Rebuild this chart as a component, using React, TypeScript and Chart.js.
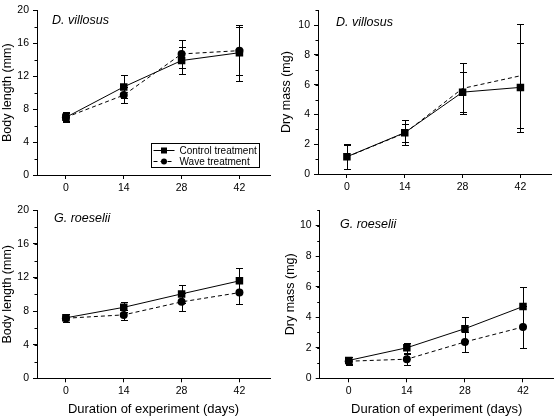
import React, { useEffect, useRef } from 'react';
import { Chart, registerables } from 'chart.js';

Chart.register(...registerables);

// ---------- data ----------
const days = [0, 14, 28, 42];
const lengthTicks = [0, 4, 8, 12, 16, 20];
const massTicks = [0, 2, 4, 6, 8, 10];

const dvLenControl = [7.0, 10.7, 13.9, 14.85];
const dvLenControlErr = [0.5, 1.4, 1.6, 3.4];
const dvLenWave = [7.0, 9.7, 14.7, 15.1];
const dvLenWaveErr = [0.6, 1.0, 1.65, 2.9];

const dvMassControl = [1.16, 2.78, 5.5, 5.82];
const dvMassControlErr = [0.85, 0.85, 1.35, 3.0];
const dvMassWave = [1.15, 2.75, 5.75, 6.6];
const dvMassWaveErr = [0.8, 0.6, 1.72, 3.5];

const grLenControl = [7.2, 8.45, 10.05, 11.6];
const grLenControlErr = [0.45, 0.6, 1.05, 1.5];
const grLenWave = [7.15, 7.55, 9.1, 10.2];
const grLenWaveErr = [0.45, 0.6, 1.05, 1.4];

const grMassControl = [1.17, 2.0, 3.25, 4.7];
const grMassControlErr = [0.25, 0.33, 0.78, 1.25];
const grMassWave = [1.12, 1.25, 2.38, 3.36];
const grMassWaveErr = [0.25, 0.35, 0.68, 1.35];

const FONT = "'Liberation Sans', Arial, Helvetica, sans-serif";

// ---------- plugins ----------
const errorBarPlugin = {
  id: 'errorBars',
  beforeDatasetsDraw(chart: any) {
    const ctx = chart.ctx;
    const ys = chart.scales.y;
    chart.data.datasets.forEach((ds: any, di: number) => {
      const errs = ds.errors;
      if (!errs) return;
      const meta = chart.getDatasetMeta(di);
      ctx.save();
      ctx.strokeStyle = '#000';
      ctx.lineWidth = 1;
      meta.data.forEach((pt: any, i: number) => {
        const v = ds.data[i].y;
        const e = errs[i];
        const x = Math.round(pt.x) + 0.5;
        const yTop = Math.round(ys.getPixelForValue(v + e)) + 0.5;
        const yBot = Math.round(ys.getPixelForValue(v - e)) + 0.5;
        ctx.beginPath();
        ctx.moveTo(x, yTop);
        ctx.lineTo(x, yBot);
        ctx.moveTo(x - 3.5, yTop);
        ctx.lineTo(x + 3.5, yTop);
        ctx.moveTo(x - 3.5, yBot);
        ctx.lineTo(x + 3.5, yBot);
        ctx.stroke();
      });
      ctx.restore();
    });
  },
};

const minorTickPlugin = {
  id: 'minorTicks',
  afterDraw(chart: any, _args: any, opts: any) {
    const s = chart.scales.y;
    const ctx = chart.ctx;
    ctx.save();
    ctx.strokeStyle = '#000';
    ctx.lineWidth = 1;
    ctx.beginPath();
    for (let v = s.min; v <= s.max + 1e-9; v += opts.step) {
      const py = Math.round(s.getPixelForValue(v)) + 0.5;
      ctx.moveTo(s.right - 2.5, py);
      ctx.lineTo(s.right, py);
    }
    ctx.stroke();
    ctx.restore();
  },
};

const panelLabelPlugin = {
  id: 'panelLabel',
  afterDraw(chart: any, _args: any, opts: any) {
    const ctx = chart.ctx;
    const a = chart.chartArea;
    ctx.save();
    ctx.fillStyle = '#000';
    ctx.font = `italic 12.5px ${FONT}`;
    ctx.textAlign = 'left';
    ctx.textBaseline = 'middle';
    ctx.fillText(opts.text, a.left + opts.dx, a.top + opts.dy);
    ctx.restore();
  },
};

const boxLegendPlugin = {
  id: 'boxLegend',
  afterDraw(chart: any, _args: any, opts: any) {
    if (!opts.show) return;
    const ctx = chart.ctx;
    const a = chart.chartArea;
    const w = 108;
    const h = 24;
    const right = Math.round(a.right - 11) + 0.5;
    const bottom = Math.round(a.bottom - 8) + 0.5;
    const left = right - w;
    const top = bottom - h;
    ctx.save();
    ctx.strokeStyle = '#000';
    ctx.lineWidth = 1;
    ctx.fillStyle = '#fff';
    ctx.fillRect(left, top, w, h);
    ctx.strokeRect(left, top, w, h);
    const dsets = chart.data.datasets;
    const order = [1, 0];
    order.forEach((di, row) => {
      const ds = dsets[di];
      const y = Math.round(top + 6.5 + row * 11) + 0.5;
      ctx.beginPath();
      ctx.setLineDash(ds.borderDash || []);
      ctx.moveTo(left + 2, y);
      ctx.lineTo(left + 23, y);
      ctx.stroke();
      ctx.setLineDash([]);
      ctx.fillStyle = '#000';
      const cx = left + 12.5;
      if (ds.pointStyle === 'rect') {
        ctx.fillRect(cx - 3, y - 3, 6, 6);
      } else {
        ctx.beginPath();
        ctx.arc(cx, y, 3, 0, Math.PI * 2);
        ctx.fill();
      }
      ctx.font = `10px ${FONT}`;
      ctx.textAlign = 'left';
      ctx.textBaseline = 'middle';
      ctx.fillText(ds.label, left + 28, y + 0.5);
    });
    ctx.restore();
  },
};

// ---------- panel ----------
type PanelProps = {
  left: number;
  top: number;
  width: number;
  height: number;
  area: { left: number; right: number; top: number; bottom: number };
  yMax: number;
  yTicks: number[];
  minorStep: number;
  yTitle: string;
  yTitlePad: number;
  xTitle: boolean;
  label: string;
  labelDx: number;
  labelDy: number;
  legend: boolean;
  control: number[];
  controlErr: number[];
  wave: number[];
  waveErr: number[];
  waveMarkers: boolean;
};

function Panel(p: PanelProps) {
  const ref = useRef<HTMLCanvasElement>(null);
  useEffect(() => {
    if (!ref.current) return;
    const tickFont = { family: FONT, size: 10.5 };
    const chart = new Chart(ref.current, {
      type: 'line',
      data: {
        datasets: [
          {
            label: 'Wave treatment',
            data: days.map((d, i) => ({ x: d, y: p.wave[i] })),
            errors: p.waveErr,
            borderColor: '#000',
            backgroundColor: '#000',
            borderWidth: 1,
            borderDash: [4, 3],
            pointStyle: 'circle',
            pointRadius: p.waveMarkers ? 4 : 0,
            pointBorderWidth: 0,
            pointBackgroundColor: '#000',
            tension: 0,
          } as any,
          {
            label: 'Control treatment',
            data: days.map((d, i) => ({ x: d, y: p.control[i] })),
            errors: p.controlErr,
            borderColor: '#000',
            backgroundColor: '#000',
            borderWidth: 1,
            pointStyle: 'rect',
            pointRadius: 5.3,
            pointBorderWidth: 0,
            pointBackgroundColor: '#000',
            tension: 0,
          } as any,
        ],
      },
      options: {
        animation: false,
        responsive: false,
        events: [],
        layout: {
          autoPadding: false,
          padding: {
            left: 0,
            top: p.area.top,
            right: p.width - p.area.right,
            bottom: 0,
          },
        },
        plugins: {
          legend: { display: false },
          tooltip: { enabled: false },
          panelLabel: { text: p.label, dx: p.labelDx, dy: p.labelDy },
          minorTicks: { step: p.minorStep },
          boxLegend: { show: p.legend },
        } as any,
        scales: {
          x: {
            type: 'linear',
            min: -7,
            max: 49.4,
            afterBuildTicks: (s: any) => {
              s.ticks = days.map((v) => ({ value: v }));
            },
            afterFit: (s: any) => {
              s.height = p.height - p.area.bottom;
            },
            grid: {
              display: true,
              drawOnChartArea: false,
              drawTicks: true,
              tickLength: 4,
              color: '#000',
              tickColor: '#000',
            },
            border: { display: true, color: '#000', width: 1 },
            ticks: {
              font: tickFont,
              color: '#000',
              padding: 3,
              maxRotation: 0,
              autoSkip: false,
              callback: (v: any) => String(v),
            },
            title: {
              display: p.xTitle,
              text: 'Duration of experiment (days)',
              font: { family: FONT, size: 13 },
              color: '#000',
              padding: { top: 0, bottom: 0 },
            },
          },
          y: {
            type: 'linear',
            min: 0,
            max: p.yMax,
            afterBuildTicks: (s: any) => {
              s.ticks = p.yTicks.map((v) => ({ value: v }));
            },
            afterFit: (s: any) => {
              s.width = p.area.left;
            },
            grid: {
              display: true,
              drawOnChartArea: false,
              drawTicks: true,
              tickLength: 4,
              color: '#000',
              tickColor: '#000',
            },
            border: { display: true, color: '#000', width: 1 },
            ticks: {
              font: tickFont,
              color: '#000',
              padding: 4,
              autoSkip: false,
              callback: (v: any) => String(v),
            },
            title: {
              display: true,
              text: p.yTitle,
              font: { family: FONT, size: 12.5 },
              color: '#000',
              padding: { top: p.yTitlePad, bottom: 0 },
            },
          },
        },
      } as any,
      plugins: [errorBarPlugin, minorTickPlugin, panelLabelPlugin, boxLegendPlugin],
    });
    return () => chart.destroy();
  }, []);
  return (
    <canvas
      ref={ref}
      width={p.width}
      height={p.height}
      style={{
        position: 'absolute',
        left: p.left,
        top: p.top,
        width: p.width,
        height: p.height,
      }}
    />
  );
}

export default function App() {
  return (
    <div
      style={{
        position: 'absolute',
        left: 0,
        top: 0,
        width: 557,
        height: 417,
        background: '#fff',
        overflow: 'hidden',
      }}
    >
      <Panel
        left={0}
        top={0}
        width={278}
        height={200}
        area={{ left: 37, right: 270, top: 4.6, bottom: 175 }}
        yMax={20}
        yTicks={lengthTicks}
        minorStep={2}
        yTitle="Body length (mm)"
        yTitlePad={0}
        xTitle={false}
        label="D. villosus"
        labelDx={15}
        labelDy={10.5}
        legend={true}
        control={dvLenControl}
        controlErr={dvLenControlErr}
        wave={dvLenWave}
        waveErr={dvLenWaveErr}
        waveMarkers={true}
      />
      <Panel
        left={278}
        top={0}
        width={279}
        height={200}
        area={{ left: 40, right: 273, top: 2.7, bottom: 174 }}
        yMax={11}
        yTicks={massTicks}
        minorStep={1}
        yTitle="Dry mass (mg)"
        yTitlePad={1.5}
        xTitle={false}
        label="D. villosus"
        labelDx={18}
        labelDy={12}
        legend={false}
        control={dvMassControl}
        controlErr={dvMassControlErr}
        wave={dvMassWave}
        waveErr={dvMassWaveErr}
        waveMarkers={false}
      />
      <Panel
        left={0}
        top={200}
        width={278}
        height={217}
        area={{ left: 37, right: 270, top: 7.3, bottom: 178.3 }}
        yMax={20}
        yTicks={lengthTicks}
        minorStep={2}
        yTitle="Body length (mm)"
        yTitlePad={0}
        xTitle={true}
        label="G. roeselii"
        labelDx={17}
        labelDy={8.7}
        legend={false}
        control={grLenControl}
        controlErr={grLenControlErr}
        wave={grLenWave}
        waveErr={grLenWaveErr}
        waveMarkers={true}
      />
      <Panel
        left={278}
        top={200}
        width={279}
        height={217}
        area={{ left: 41.7, right: 275.7, top: 6.7, bottom: 178.3 }}
        yMax={11}
        yTicks={massTicks}
        minorStep={1}
        yTitle="Dry mass (mg)"
        yTitlePad={5.5}
        xTitle={true}
        label="G. roeselii"
        labelDx={20.3}
        labelDy={14}
        legend={false}
        control={grMassControl}
        controlErr={grMassControlErr}
        wave={grMassWave}
        waveErr={grMassWaveErr}
        waveMarkers={true}
      />
    </div>
  );
}
